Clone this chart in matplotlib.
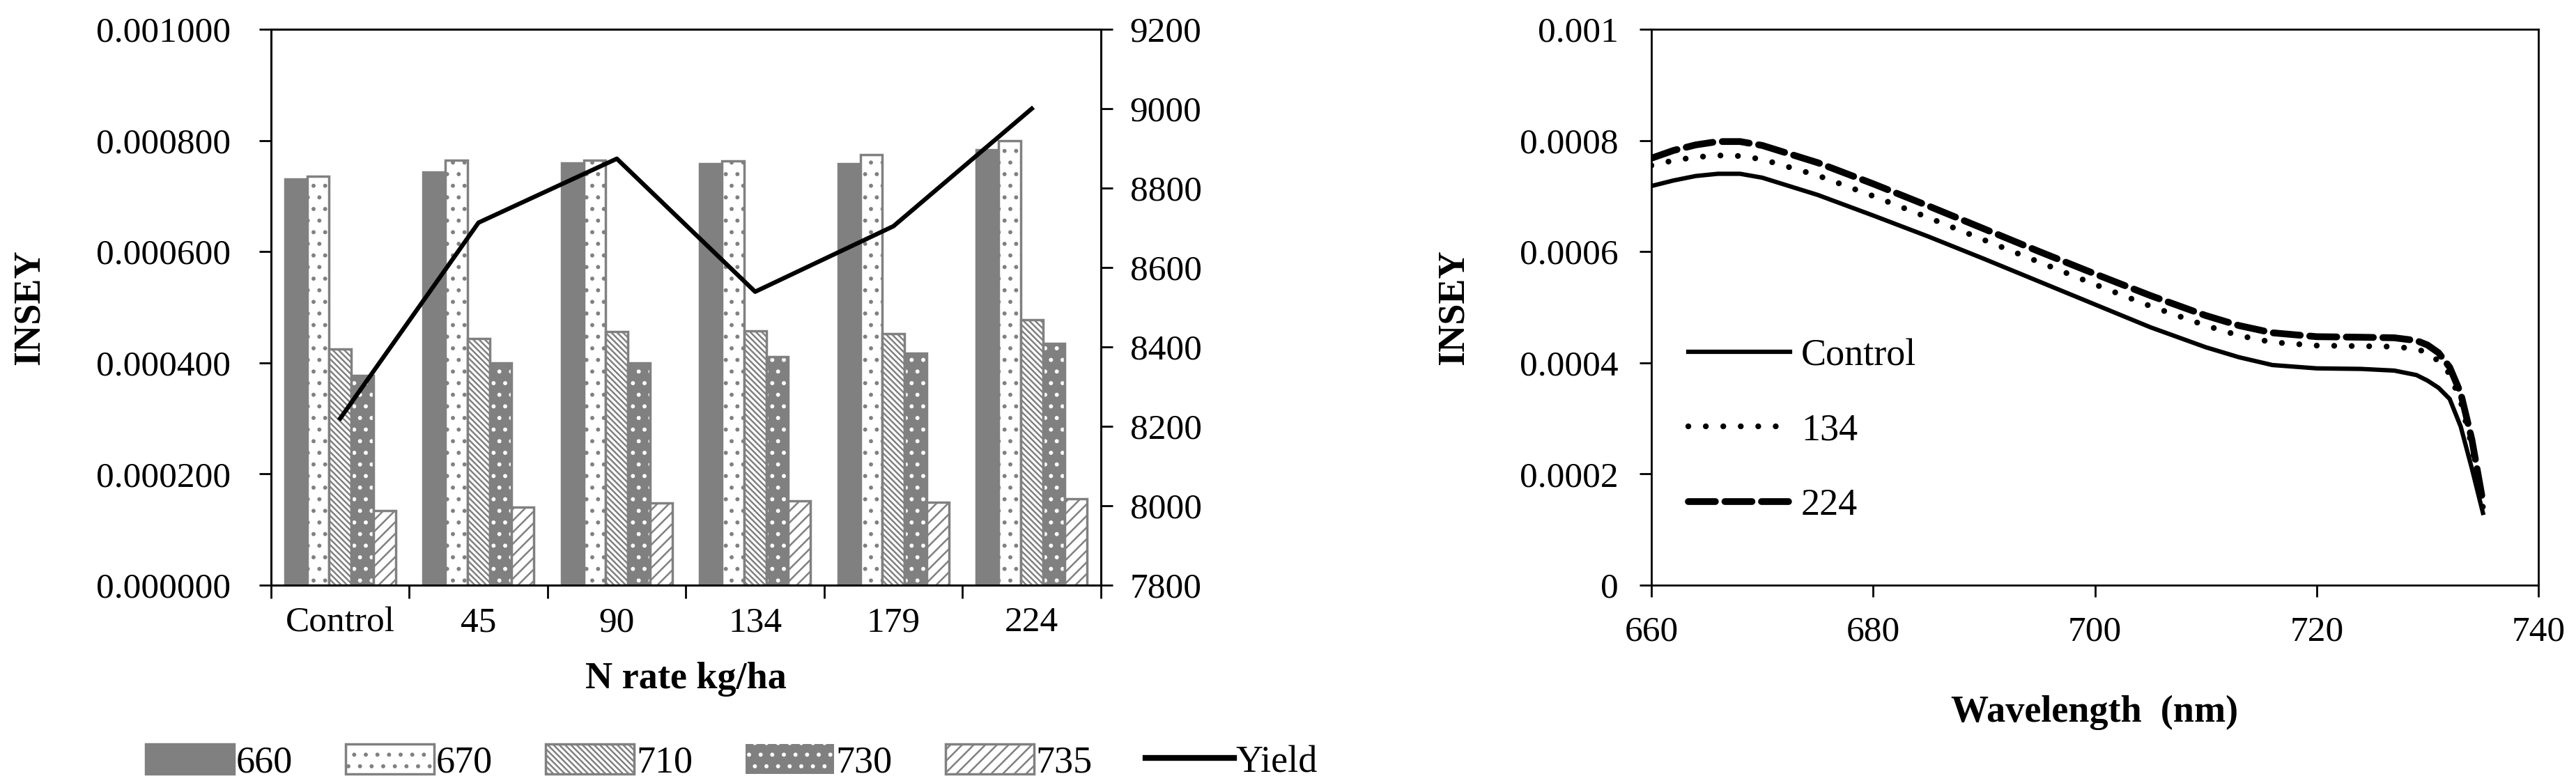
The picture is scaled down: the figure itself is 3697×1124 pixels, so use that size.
import matplotlib
matplotlib.use("Agg")
import matplotlib.pyplot as plt
from matplotlib.patches import Patch
from matplotlib.lines import Line2D
import numpy as np

plt.rcParams['font.family'] = ['Liberation Serif', 'DejaVu Serif']
plt.rcParams['hatch.linewidth'] = 1.8

# left chart: INSEY per band at each N rate, plus grain yield
n_rates = ["Control", "45", "90", "134", "179", "224"]
bands = ["660", "670", "710", "730", "735"]
insey_660 = [0.000730, 0.000743, 0.000760, 0.000758, 0.000758, 0.000783]
insey_670 = [0.000735, 0.000764, 0.000765, 0.000763, 0.000775, 0.000799]
insey_710 = [0.000425, 0.000443, 0.000456, 0.000458, 0.000453, 0.000477]
insey_730 = [0.000377, 0.000400, 0.000400, 0.000411, 0.000417, 0.000435]
insey_735 = [0.000134, 0.000140, 0.000148, 0.000152, 0.000149, 0.000156]
yield_kg = [8220, 8713, 8874, 8539, 8704, 9000]

# right chart: INSEY spectra
wavelength = [660, 662, 664, 666, 668, 670, 675, 680, 685, 690, 695, 700, 705,
              710, 713, 716, 720, 724, 727, 729, 730, 731, 732, 733, 734, 735]
spec_control = [0.000718, 0.000728, 0.000736, 0.000740, 0.000740, 0.000733, 0.000702,
                0.000665, 0.000627, 0.000587, 0.000546, 0.000505, 0.000464, 0.000428,
                0.000410, 0.000396, 0.000390, 0.000389, 0.000386, 0.000378, 0.000368,
                0.000355, 0.000335, 0.000285, 0.000210, 0.000130]
spec_134 = [0.000755, 0.000764, 0.000770, 0.000773, 0.000772, 0.000766, 0.000737,
            0.000700, 0.000661, 0.000621, 0.000581, 0.000541, 0.000502, 0.000467,
            0.000449, 0.000437, 0.000431, 0.000430, 0.000429, 0.000425, 0.000418,
            0.000403, 0.000380, 0.000330, 0.000250, 0.000140]
spec_224 = [0.000768, 0.000782, 0.000792, 0.000798, 0.000798, 0.000791, 0.000760,
            0.000722, 0.000682, 0.000641, 0.000600, 0.000560, 0.000521, 0.000485,
            0.000467, 0.000454, 0.000447, 0.000446, 0.000445, 0.000440, 0.000432,
            0.000418, 0.000392, 0.000345, 0.000262, 0.000150]

GRAY = '#808080'
FS = 37      # tick labels
LFS = 39     # axis labels / legends

fig = plt.figure(figsize=(36.98, 11.24), dpi=100)

# ---------------- left chart ----------------
ax = fig.add_axes([389 / 3698, 284 / 1124, (1580 - 389) / 3698, 798 / 1124])
x = np.arange(len(n_rates))
w = 0.16
series = [insey_660, insey_670, insey_710, insey_730, insey_735]
styles = [
    dict(facecolor=GRAY, edgecolor=GRAY, hatch=None),
    dict(facecolor='white', edgecolor=GRAY, hatch='.'),
    dict(facecolor='white', edgecolor=GRAY, hatch='\\\\\\\\'),
    dict(facecolor=GRAY, edgecolor='white', hatch='.'),
    dict(facecolor='white', edgecolor=GRAY, hatch='//'),
]
handles = []
for i, (vals, st) in enumerate(zip(series, styles)):
    pos = x + (i - 2) * w
    if i == 3:
        # gray bar with white dots
        ax.bar(pos, vals, w, facecolor=GRAY, edgecolor='white', hatch='.', linewidth=0)
        ax.bar(pos, vals, w, facecolor='none', edgecolor=GRAY, linewidth=2.5)
        handles.append(Patch(facecolor=GRAY, edgecolor='white', hatch='.',
                             linewidth=0, label=bands[i]))
    else:
        ax.bar(pos, vals, w, facecolor=st['facecolor'], edgecolor=st['edgecolor'],
               hatch=st['hatch'], linewidth=2.5)
        handles.append(Patch(facecolor=st['facecolor'], edgecolor=GRAY,
                             hatch=st['hatch'], linewidth=2.5, label=bands[i]))

ax.set_xlim(-0.5, len(n_rates) - 0.5)
ax.set_ylim(0, 0.001)
yt = np.arange(0, 0.0010001, 0.0002)
ax.set_yticks(yt)
ax.set_yticklabels([f"{v:.6f}" for v in yt])
ax.set_xticks(np.arange(-0.5, len(n_rates), 1.0))
ax.set_xticklabels([])
ax.set_xticks(x, minor=True)
ax.set_xticklabels(n_rates, minor=True)
ax.tick_params(axis='x', which='minor', length=0, pad=22, labelsize=FS)
ax.tick_params(axis='x', which='major', direction='out', length=14, width=2)
ax.tick_params(axis='y', direction='out', length=12, width=2, pad=30, labelsize=FS)
ax.set_ylabel("INSEY", fontsize=LFS, fontweight='bold', labelpad=50)
ax.set_xlabel("N rate kg/ha", fontsize=LFS, fontweight='bold', labelpad=24)
for s in ax.spines.values():
    s.set_linewidth(2)

ax2 = ax.twinx()
ax2.plot(x, yield_kg, color='black', linewidth=4.5)
ax2.set_ylim(7800, 9200)
ax2.set_yticks(np.arange(7800, 9201, 200))
ax2.tick_params(axis='y', direction='out', length=12, width=2, pad=18, labelsize=FS)
for s in ax2.spines.values():
    s.set_linewidth(2)

handles.append(Line2D([0], [0], color='black', linewidth=6, label='Yield'))
fig.legend(handles=handles, loc='center', ncol=6, frameon=False, fontsize=LFS,
           bbox_to_anchor=(1050 / 3698, 1 - 1094 / 1124), handlelength=2.35,
           handleheight=0.85, handletextpad=0.05, columnspacing=1.4)

# ---------------- right chart ----------------
bx = fig.add_axes([2370 / 3698, 284 / 1124, (3643 - 2370) / 3698, 798 / 1124])
bx.plot(wavelength, spec_control, color='black', linewidth=4.5, label='Control')
bx.plot(wavelength, spec_134, color='black', linewidth=6, linestyle=(0, (0.01, 3.0)),
        dash_capstyle='round', label='134')
bx.plot(wavelength, spec_224, color='black', linewidth=7, linestyle=(0, (4.0, 1.4)),
        dash_capstyle='round', label='224')
bx.set_xlim(660, 740)
bx.set_ylim(0, 0.001)
bx.set_xticks(np.arange(660, 741, 20))
bx.set_yticks([0, 0.0002, 0.0004, 0.0006, 0.0008, 0.001])
bx.set_yticklabels(["0", "0.0002", "0.0004", "0.0006", "0.0008", "0.001"])
bx.tick_params(axis='both', direction='out', length=12, width=2, labelsize=FS)
bx.tick_params(axis='y', pad=22)
bx.tick_params(axis='x', pad=20)
bx.set_ylabel("INSEY", fontsize=LFS, fontweight='bold', labelpad=50)
bx.set_xlabel("Wavelength  (nm)", fontsize=LFS, fontweight='bold', labelpad=48)
for s in bx.spines.values():
    s.set_linewidth(2)
bx.legend(loc='center left', bbox_to_anchor=(0.02, 0.278), frameon=False, fontsize=LFS,
          handlelength=2.7, handletextpad=0.3, labelspacing=1.05, borderpad=0)

fig.savefig("out.png", dpi=100)
